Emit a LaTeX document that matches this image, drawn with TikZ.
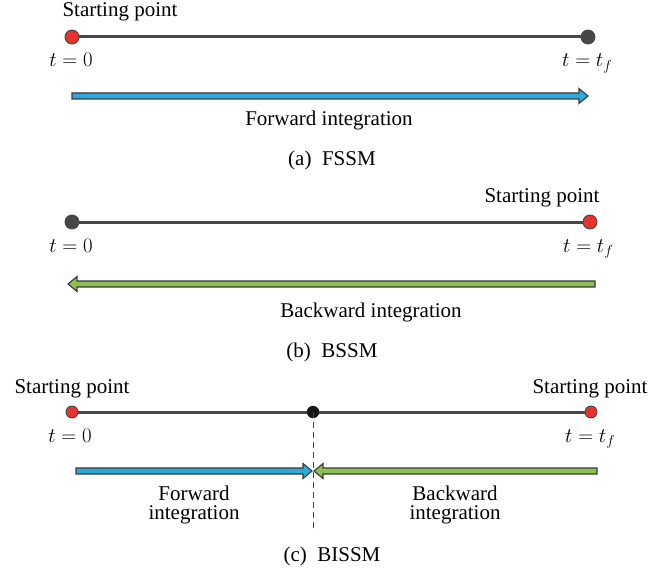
\documentclass[tikz,border=0pt]{standalone}
\usepackage{fontspec}
\setmainfont{Liberation Serif}
\usetikzlibrary{calc}
\definecolor{linegray}{HTML}{474747}
\definecolor{dotred}{HTML}{E8322E}
\definecolor{fwdblue}{HTML}{2EA9E0}
\definecolor{bwdgreen}{HTML}{8CC152}
\definecolor{outl}{HTML}{3A3A3A}
\definecolor{middot}{HTML}{151515}
% #1 tail, #2 tip, #3 direction sign (-1 = tip on the right, 1 = tip on the left), #4 fill
\newcommand\fatarrow[4]{%
  \draw[fatline, fill=#4] ($(#1)+(0,3)$) -- ($(#2)+(#3*9,3)$) -- ($(#2)+(#3*9,7.5)$) -- (#2)
    -- ($(#2)+(#3*9,-7.5)$) -- ($(#2)+(#3*9,-3)$) -- ($(#1)+(0,-3)$) -- cycle;}
\begin{document}
\begin{tikzpicture}[x=1pt,y=-1pt,
  every node/.style={font=\fontsize{21}{25}\selectfont},
  lbl/.style={inner sep=0pt, anchor=base},
  lblw/.style={inner sep=0pt, anchor=base west},
  tline/.style={line width=3pt, draw=linegray},
  reddot/.style={circle, inner sep=0pt, minimum size=14pt, fill=dotred, draw=linegray, line width=0.9pt},
  darkdot/.style={circle, inner sep=0pt, minimum size=14pt, fill=linegray, draw=linegray, line width=0.9pt},
  reddotc/.style={circle, inner sep=0pt, minimum size=12pt, fill=dotred, draw=linegray, line width=0.9pt},
  middotc/.style={circle, inner sep=0pt, minimum size=12pt, fill=middot, draw=middot},
  fatline/.style={draw=outl, line width=1.1pt, line join=miter},
  splitline/.style={draw=linegray, line width=1pt, dash pattern=on 6pt off 4pt}
]
\useasboundingbox (0,0) rectangle (671,580);

% ---------- (a) FSSM ----------
\node[reddot] (a0) at (72,37) {};
\node[darkdot] (a1) at (588,37) {};
\draw[tline] (a0) -- (a1);
\node[lbl] (asp) at (120,17) {Starting point};
\node[lbl] (at0) at (71,67) {$t=0$};
\node[lblw] (atf) at (562,67) {$t=t_f$};
\coordinate (fa1) at (72,96);
\coordinate (fa2) at (588,96);
\fatarrow{fa1}{fa2}{-1}{fwdblue}
\node[lbl] (afi) at (329,126) {Forward integration};
\node[lbl] (acap) at (332,165) {(a)\hspace{0.5em}FSSM};

% ---------- (b) BSSM ----------
\node[darkdot] (b0) at (72,222) {};
\node[reddot] (b1) at (590,222) {};
\draw[tline] (b0) -- (b1);
\node[lbl] (bsp) at (542,202) {Starting point};
\node[lbl] (bt0) at (71,252) {$t=0$};
\node[lblw] (btf) at (563,252) {$t=t_f$};
\coordinate (ba1) at (595,284);
\coordinate (ba2) at (68,284);
\fatarrow{ba1}{ba2}{1}{bwdgreen}
\node[lbl] (bbi) at (371,317) {Backward integration};
\node[lbl] (bcap) at (332,357) {(b)\hspace{0.5em}BSSM};

% ---------- (c) BISSM ----------
\node[reddotc] (c0) at (72,412) {};
\node[middotc] (cm) at (313,412) {};
\node[reddotc] (c1) at (591,412) {};
\draw[tline] (c0) -- (cm);
\draw[tline] (cm) -- (c1);
\coordinate (cend) at (313,532);
\draw[splitline] (cm.center) -- (cend);
\node[lbl] (csl) at (72,393) {Starting point};
\node[lbl] (csr) at (590,393) {Starting point};
\node[lbl] (ct0) at (70,442) {$t=0$};
\node[lblw] (ctf) at (565,442) {$t=t_f$};
\coordinate (cf1) at (76,471);
\coordinate (cf2) at (312,471);
\fatarrow{cf1}{cf2}{-1}{fwdblue}
\coordinate (cb1) at (597,471);
\coordinate (cb2) at (314,471);
\fatarrow{cb1}{cb2}{1}{bwdgreen}
\node[lbl] (cfw) at (194,500) {Forward};
\node[lbl] (cfi) at (194,519) {integration};
\node[lbl] (cbw) at (455,500) {Backward};
\node[lbl] (cbi) at (455,519) {integration};
\node[lbl] (ccap) at (332,561) {(c)\hspace{0.5em}BISSM};
\end{tikzpicture}
\end{document}
